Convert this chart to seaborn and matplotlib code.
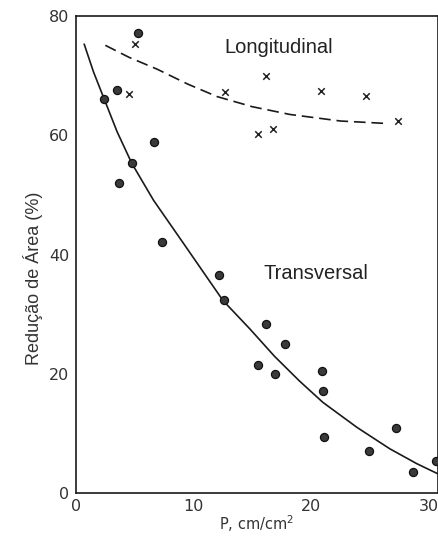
import numpy as np
import pandas as pd
import matplotlib
matplotlib.use("Agg")
import matplotlib.pyplot as plt
import seaborn as sns

# measured points - transversal (circles)
trans_p = [2.4, 3.5, 3.7, 4.8, 5.3, 6.6, 7.3, 12.2, 12.6, 15.5, 16.2, 16.9,
           17.8, 20.9, 21.0, 21.1, 24.9, 27.2, 28.65, 30.6]
trans_r = [66.1, 67.6, 52.0, 55.3, 77.1, 58.9, 42.1, 36.5, 32.3, 21.4, 28.4, 19.9,
           25.0, 20.4, 17.1, 9.4, 7.1, 10.9, 3.6, 5.4]

# measured points - longitudinal (crosses)
long_p = [5.0, 4.55, 12.65, 16.2, 15.5, 16.8, 20.8, 24.7, 27.4]
long_r = [75.3, 66.9, 67.3, 69.9, 60.2, 61.0, 67.4, 66.6, 62.4]

# fitted curves as drawn in the figure
fit_t_p = [0.7, 1.5, 2.4, 3.5, 4.75, 6.6, 9.1, 12.5, 14.8, 16.9, 19.0, 21.0, 23.9, 26.7, 29.0, 30.9]
fit_t_r = [75.3, 70.6, 66.1, 60.6, 55.3, 49.1, 42.0, 32.3, 27.5, 22.9, 18.8, 15.2, 11.0, 7.4, 4.9, 3.1]
fit_l_p = [2.5, 4.5, 6.9, 9.5, 12.0, 15.0, 18.2, 22.5, 26.3]
fit_l_r = [75.1, 73.1, 71.1, 68.6, 66.5, 64.8, 63.5, 62.4, 62.0]

trans = pd.DataFrame({"P": trans_p, "R": trans_r})
longi = pd.DataFrame({"P": long_p, "R": long_r})
fit_t = pd.DataFrame({"P": fit_t_p, "R": fit_t_r})
fit_l = pd.DataFrame({"P": fit_l_p, "R": fit_l_r})

sns.set_style("white")
plt.rcParams["font.family"] = ["DejaVu Sans"]

fig = plt.figure(figsize=(4.39, 5.37), dpi=100)
ax = fig.add_axes([0.173, 0.082, 0.825, 0.888])

sns.lineplot(data=fit_t, x="P", y="R", sort=False, estimator=None, color="#1a1a1a", lw=1.2, ax=ax)
sns.lineplot(data=fit_l, x="P", y="R", sort=False, estimator=None, color="#1a1a1a", lw=1.2,
             ax=ax).lines[-1].set_dashes([7, 3.5])
sns.scatterplot(data=trans, x="P", y="R", marker="o", s=34, color="#3a3a3a",
                edgecolor="#111111", linewidth=0.9, ax=ax, zorder=3)
sns.scatterplot(data=longi, x="P", y="R", marker="x", s=22, color="#222222",
                linewidth=1.1, ax=ax, zorder=3)

ax.text(17.2, 74.8, "Longitudinal", fontsize=14.5, family="Liberation Sans",
        ha="center", va="center", color="#222222")
ax.text(20.4, 36.8, "Transversal", fontsize=14.5, family="Liberation Sans",
        ha="center", va="center", color="#222222")

ax.set_xlim(0, 30.8)
ax.set_ylim(0, 80)
ax.set_xticks([0, 10, 20, 30])
ax.set_yticks([0, 20, 40, 60, 80])
ax.tick_params(direction="in", width=1.1, colors="#222222",
               labelsize=11.5, labelcolor="#333333")
ax.tick_params(axis="x", length=6.5, pad=4)
ax.tick_params(axis="y", length=9.5, pad=5)

for s in ax.spines.values():
    s.set_color("#1a1a1a")
    s.set_linewidth(1.2)

ax.set_xlabel("P, cm/cm$^2$", fontsize=10.5, color="#333333", labelpad=0)
ax.set_ylabel("Redução de Área (%)", fontsize=13, family="Liberation Sans",
              color="#333333")
ax.yaxis.set_label_coords(-0.09, 0.45)

fig.savefig("out.png", dpi=100)
